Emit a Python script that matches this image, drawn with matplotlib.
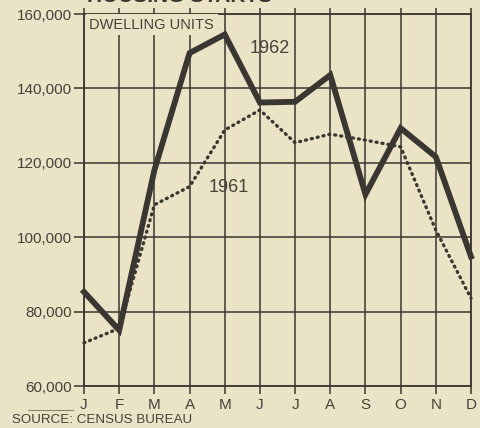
import matplotlib
matplotlib.use('Agg')
import matplotlib.pyplot as plt
from matplotlib.lines import Line2D

months = ['J', 'F', 'M', 'A', 'M', 'J', 'J', 'A', 'S', 'O', 'N', 'D']
starts_1962 = [85300, 75000, 118000, 149500, 154500, 136200, 136400, 143600, 111500, 129300, 121600, 94800]
starts_1961 = [71600, 75500, 108700, 113600, 128800, 134200, 125400, 127700, 126100, 124300, 101900, 83600]
y_ticks = [60000, 80000, 100000, 120000, 140000, 160000]

bg = '#ebe3c5'
ink = '#3a3631'
txt = '#45413b'

plt.rcParams['font.family'] = ['Liberation Sans', 'DejaVu Sans']

fig = plt.figure(figsize=(4.81, 4.28), dpi=100, facecolor=bg)
ax = fig.add_axes([84/481, 42/428, 387/481, 372/428], facecolor=bg)

x = list(range(len(months)))
ax.plot(x, starts_1961, color=ink, lw=2.4, linestyle=(0, (0.3, 1.5)),
        dash_capstyle='round', zorder=3, clip_on=False)
ax.plot(x, starts_1962, color=ink, lw=4.2, solid_joinstyle='miter',
        zorder=4, clip_on=False)

ax.set_xlim(0, 11)
ax.set_ylim(60000, 160000)
ax.set_xticks(x)
ax.set_xticklabels(months)
ax.set_yticks(y_ticks)
ax.set_yticklabels([f'{v:,}' for v in y_ticks])
ax.grid(True, color=ink, lw=1.1, zorder=1)
for s in ax.spines.values():
    s.set_color(ink)
    s.set_linewidth(1.3)

ax.tick_params(axis='x', which='both', direction='out', length=6, width=1.1,
               color=ink, labelcolor=txt, labelsize=11, pad=2.5, top=True)
ax.tick_params(axis='y', direction='out', length=7, width=1.1,
               color=ink, labelcolor=txt, labelsize=11, pad=2)
for t in ax.xaxis.get_major_ticks():
    t.tick2line.set_markersize(4)

# label box in the top left cell, hides the grid behind it
ax.text(0.15, 159000, 'DWELLING UNITS', fontsize=10.5, color=txt, va='top', ha='left',
        zorder=5, bbox=dict(facecolor=bg, edgecolor='none', pad=2.5))
ax.text(4.7, 150600, '1962', fontsize=13, color=txt, va='center', zorder=5)
ax.text(3.55, 113300, '1961', fontsize=13, color=txt, va='center', zorder=5)

# title is cut off at the top edge in the original
fig.text(87/481, 1 - 2.5/428, 'HOUSING STARTS', fontsize=15, fontweight='bold',
         color=ink, va='baseline', ha='left')
fig.text(12/481, 1 - 420/428, 'SOURCE: CENSUS BUREAU', fontsize=9.6, color=txt,
         va='center', ha='left')
fig.add_artist(Line2D([28/481, 73/481], [1 - 410/428, 1 - 410/428],
                      color='#8a857a', lw=0.8))

fig.savefig('out.png', dpi=100, facecolor=bg)
